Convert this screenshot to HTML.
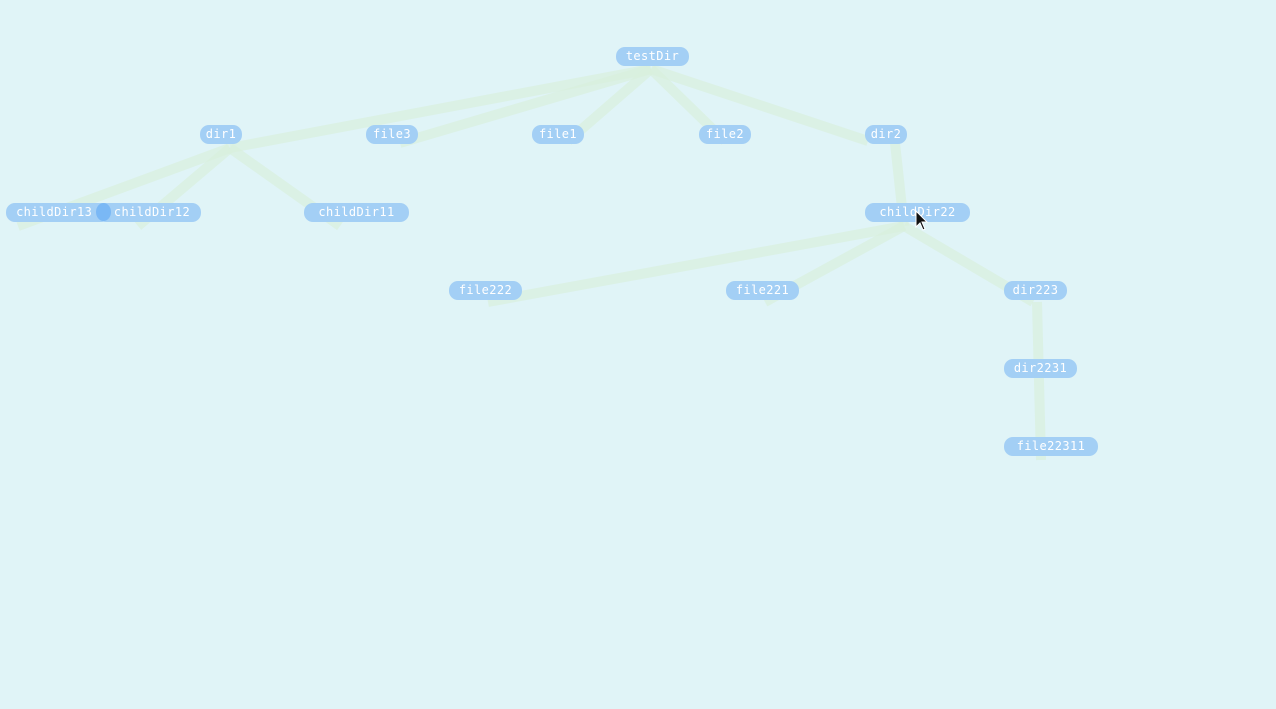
<!DOCTYPE html>
<html><head><meta charset="utf-8"><style>
html,body{margin:0;padding:0;width:1276px;height:709px;background:#e0f4f7;overflow:hidden}
#c{position:absolute;left:0;top:0}
.n{position:absolute;height:19px;border-radius:9px;background:#a3cff5;color:#fff;font:12px "DejaVu Sans Mono","Liberation Mono",monospace;line-height:19px;text-align:center;white-space:nowrap;box-sizing:border-box;letter-spacing:0.4px;margin-top:1px}
</style></head><body>
<svg id="c" width="1276" height="709">
<g stroke="#d8efdd" stroke-opacity="0.7" stroke-width="10" fill="none" stroke-linecap="butt">
<line x1="651" y1="69" x2="230" y2="148"/>
<line x1="651" y1="69" x2="400" y2="143"/>
<line x1="651" y1="69" x2="568" y2="141"/>
<line x1="651" y1="69" x2="725" y2="141"/>
<line x1="651" y1="69" x2="868" y2="141"/>
<line x1="230" y1="148" x2="18" y2="226"/>
<line x1="230" y1="148" x2="138" y2="226"/>
<line x1="230" y1="148" x2="340" y2="226"/>
<line x1="895" y1="143" x2="904" y2="226"/>
<line x1="904" y1="226" x2="488" y2="302"/>
<line x1="904" y1="226" x2="765" y2="302"/>
<line x1="904" y1="226" x2="1033" y2="302"/>
<line x1="1037" y1="302" x2="1041" y2="460"/>
</g>
</svg>
<div class="n" style="left:616px;top:46px;width:73px">testDir</div>
<div class="n" style="left:200px;top:124px;width:42px">dir1</div>
<div class="n" style="left:366px;top:124px;width:52px">file3</div>
<div class="n" style="left:532px;top:124px;width:52px">file1</div>
<div class="n" style="left:699px;top:124px;width:52px">file2</div>
<div class="n" style="left:865px;top:124px;width:42px">dir2</div>
<div class="n" style="left:6px;top:202px;width:104px">childDir13&nbsp;</div>
<div class="n" style="left:97px;top:202px;width:104px;padding-left:6px">childDir12</div>
<div style="position:absolute;left:96px;top:203px;width:15px;height:18px;border-radius:50%;background:#7ab8f5"></div>
<div class="n" style="left:304px;top:202px;width:105px">childDir11</div>
<div class="n" style="left:865px;top:202px;width:105px">childDir22</div>
<div class="n" style="left:449px;top:280px;width:73px">file222</div>
<div class="n" style="left:726px;top:280px;width:73px">file221</div>
<div class="n" style="left:1004px;top:280px;width:63px">dir223</div>
<div class="n" style="left:1004px;top:358px;width:73px">dir2231</div>
<div class="n" style="left:1004px;top:436px;width:94px">file22311</div>
<svg style="position:absolute;left:914px;top:210px" width="16" height="24">
<polygon points="2,1 2,17 6,13 9,20 11,19 8,12 13,12" fill="#111" stroke="#fff" stroke-width="1"/>
</svg>
</body></html>
